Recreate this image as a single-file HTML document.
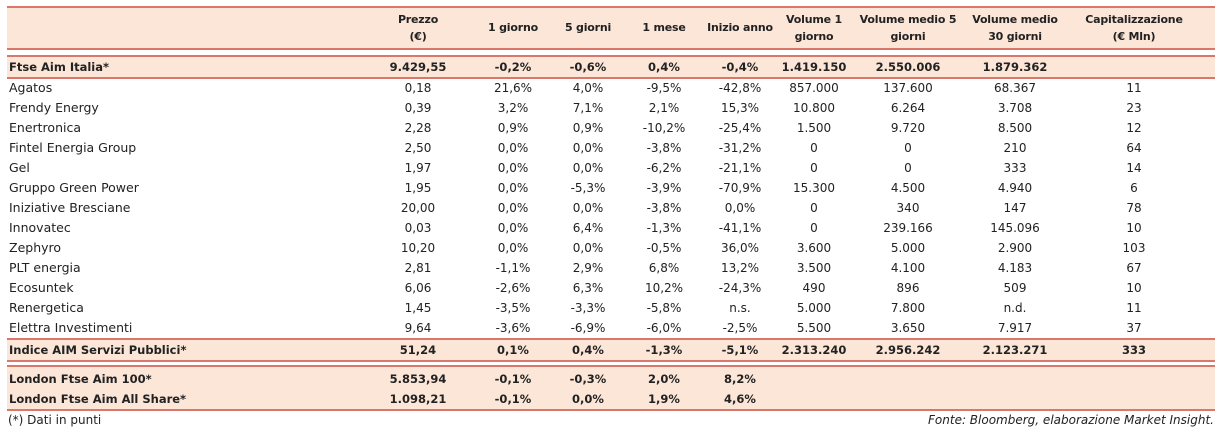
<!DOCTYPE html>
<html><head><meta charset="utf-8">
<style>
body{margin:0;width:1222px;height:431px;background:#fff;position:relative;overflow:hidden;font-family:"DejaVu Sans","Liberation Sans",sans-serif;color:#222}
.band{position:absolute;left:7px;width:1208px;background:#fce6d8}
.ln{position:absolute;left:7px;width:1208px;height:2px;background:#d9776a}
.c{position:absolute;font-size:12px;white-space:nowrap;transform:translateX(-50%);line-height:20px}
.l{position:absolute;font-size:12.5px;white-space:nowrap;line-height:20px;left:9px}
.b{font-weight:bold;font-size:11.5px}
.h{position:absolute;font-size:11px;font-weight:bold;text-align:center;transform:translateX(-50%);line-height:17px;white-space:nowrap;letter-spacing:-0.2px}
</style></head><body>
<div class="band" style="top:7px;height:42px"></div>
<div class="band" style="top:56px;height:22px"></div>
<div class="band" style="top:339px;height:22px"></div>
<div class="band" style="top:366px;height:44px"></div>
<div class="ln" style="top:6px"></div>
<div class="ln" style="top:48px"></div>
<div class="ln" style="top:55px"></div>
<div class="ln" style="top:77px"></div>
<div class="ln" style="top:338px"></div>
<div class="ln" style="top:360px"></div>
<div class="ln" style="top:365px"></div>
<div class="ln" style="top:409px"></div>
<div id="root"></div>
<div class="l" style="top:410px;left:8px;font-size:12px">(*) Dati in punti</div>
<div class="l" style="top:410px;left:auto;right:8px;font-size:12px;font-style:italic">Fonte: Bloomberg, elaborazione Market Insight.</div>
<script>
const headers=[["Prezzo","(€)"],["1 giorno"],["5 giorni"],["1 mese"],["Inizio anno"],["Volume 1","giorno"],["Volume medio 5","giorni"],["Volume medio","30 giorni"],["Capitalizzazione","(€ Mln)"]];
const names=["Ftse Aim Italia*","Agatos","Frendy Energy","Enertronica","Fintel Energia Group","Gel","Gruppo Green Power","Iniziative Bresciane","Innovatec","Zephyro","PLT energia","Ecosuntek","Renergetica","Elettra Investimenti","Indice AIM Servizi Pubblici*","London Ftse Aim 100*","London Ftse Aim All Share*"];
const rows=[
["9.429,55","-0,2%","-0,6%","0,4%","-0,4%","1.419.150","2.550.006","1.879.362",""],
["0,18","21,6%","4,0%","-9,5%","-42,8%","857.000","137.600","68.367","11"],
["0,39","3,2%","7,1%","2,1%","15,3%","10.800","6.264","3.708","23"],
["2,28","0,9%","0,9%","-10,2%","-25,4%","1.500","9.720","8.500","12"],
["2,50","0,0%","0,0%","-3,8%","-31,2%","0","0","210","64"],
["1,97","0,0%","0,0%","-6,2%","-21,1%","0","0","333","14"],
["1,95","0,0%","-5,3%","-3,9%","-70,9%","15.300","4.500","4.940","6"],
["20,00","0,0%","0,0%","-3,8%","0,0%","0","340","147","78"],
["0,03","0,0%","6,4%","-1,3%","-41,1%","0","239.166","145.096","10"],
["10,20","0,0%","0,0%","-0,5%","36,0%","3.600","5.000","2.900","103"],
["2,81","-1,1%","2,9%","6,8%","13,2%","3.500","4.100","4.183","67"],
["6,06","-2,6%","6,3%","10,2%","-24,3%","490","896","509","10"],
["1,45","-3,5%","-3,3%","-5,8%","n.s.","5.000","7.800","n.d.","11"],
["9,64","-3,6%","-6,9%","-6,0%","-2,5%","5.500","3.650","7.917","37"],
["51,24","0,1%","0,4%","-1,3%","-5,1%","2.313.240","2.956.242","2.123.271","333"],
["5.853,94","-0,1%","-0,3%","2,0%","8,2%","","","",""],
["1.098,21","-0,1%","0,0%","1,9%","4,6%","","","",""]];
const bold=[0,14,15,16];
const colX=[418,513,588,664,740,814,908,1015,1134];
const rowY=[57,78,98,118,138,158,178,198,218,238,258,278,298,318,340,369,389];
const root=document.getElementById('root');
headers.forEach((h,i)=>{const d=document.createElement('div');d.className='h';


d.style.left=colX[i]+'px';d.style.top=(h.length>1?11:19)+'px';d.innerHTML=h.join('<br>');root.appendChild(d);});
names.forEach((n,r)=>{const b=bold.includes(r);
const d=document.createElement('div');d.className='l'+(b?' b':'');


d.style.top=rowY[r]+'px';d.textContent=n;root.appendChild(d);
rows[r].forEach((v,i)=>{if(!v)return;const c=document.createElement('div');c.className='c'+(b?' b':'');


c.style.left=colX[i]+'px';c.style.top=rowY[r]+'px';c.textContent=v;root.appendChild(c);});});
</script>
</body></html>
